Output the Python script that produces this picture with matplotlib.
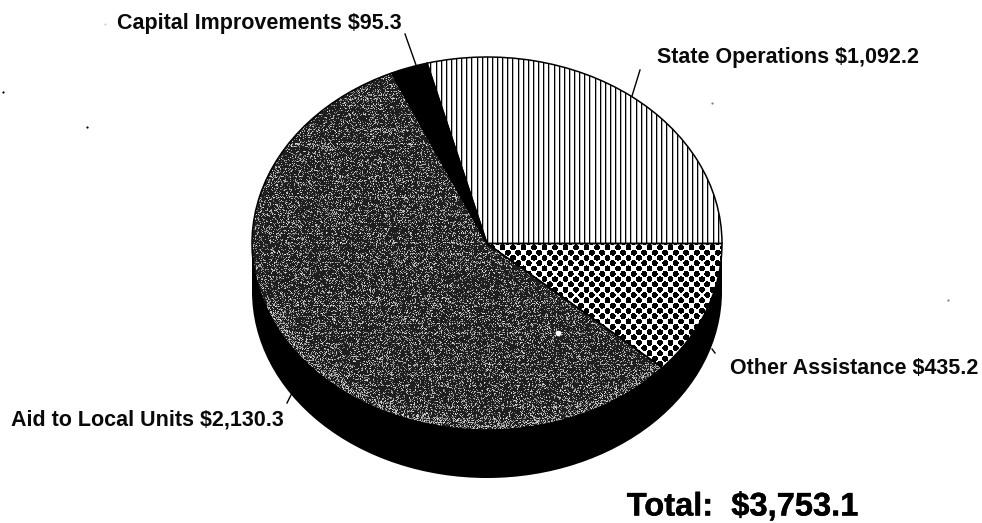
import numpy as np
import matplotlib
matplotlib.use("Agg")
import matplotlib.pyplot as plt
import matplotlib.patheffects as pe
from matplotlib.lines import Line2D
from matplotlib.patches import Ellipse, Rectangle

plt.rcParams['font.family'] = ['Liberation Sans', 'DejaVu Sans']

# Chart data ($ millions)
names = ["State Operations", "Capital Improvements", "Aid to Local Units", "Other Assistance"]
values = [1092.2, 95.3, 2130.3, 435.2]
total_label = "Total:  $3,753.1"

W, H = 982, 523
CX, CY, RX, RY = 487, 243.5, 235, 186.5
DEPTH = 48 / RY


def px(x, y):
    # reference pixel -> figure fraction
    return x / W, 1 - y / H


fig = plt.figure(figsize=(W / 100, H / 100), dpi=100, facecolor='white')
ax = fig.add_axes([0, 0, 1, 1])

xlim = (-CX / RX, (W - CX) / RX)
ylim = (-(H - CY) / RY, CY / RY)

# pie from the data; axes limits squash the circle into the tilted ellipse
wedges, _ = ax.pie(values, startangle=0, counterclock=True, radius=1,
                   colors=['none', 'black', 'none', 'none'],
                   wedgeprops=dict(edgecolor='black', linewidth=1.1))
for w in wedges:
    w.set_zorder(5)

# side of the disc
ax.add_patch(Ellipse((0, -DEPTH), 2, 2, color='black', lw=0, zorder=1))
ax.add_patch(Rectangle((-1, -DEPTH), 2, DEPTH, color='black', lw=0, zorder=1))

yy, xx = np.indices((H, W), dtype=float)
extent = [xlim[0], xlim[1], ylim[0], ylim[1]]


def texture(arr, wedge):
    im = ax.imshow(arr, cmap='gray', vmin=0, vmax=1, extent=extent, aspect='auto',
                   interpolation='nearest', origin='upper', zorder=3)
    im.set_clip_path(wedge)


# vertical rules for State Operations, one pixel wide with a soft shoulder
line_px = np.floor((xx + 1) / 5.13) != np.floor(xx / 5.13)
shoulder = np.roll(line_px, 1, axis=1)
stripes = np.where(line_px, 0.0, np.where(shoulder, 0.72, 1.0))
texture(stripes, wedges[0])

# staggered dots for Other Assistance
sx, sy = 10.5, 5.3
u = (xx + 2) % sx
v = (yy - 3) % (2 * sy)
d1 = np.hypot(np.minimum(u, sx - u), np.minimum(v, 2 * sy - v))
u2 = (xx + 2 + sx / 2) % sx
v2 = (yy - 3 + sy) % (2 * sy)
d2 = np.hypot(np.minimum(u2, sx - u2), np.minimum(v2, 2 * sy - v2))
dots = np.where(np.minimum(d1, d2) < 3.0, 0.0, 1.0)
texture(dots, wedges[3])

# scanner grain for Aid to Local Units (fixed hash, only a fill texture)
grain = (np.sin(xx * 12.9898 + yy * 78.233) * 43758.5453) % 1
streak = (np.sin(yy * 91.17) * 4375.85) % 1
rr = np.hypot((xx - CX) / RX, (yy - CY) / RY)
level = 0.24 + 0.18 * (streak > 0.85) + 0.25 * np.clip((rr - 0.92) / 0.08, 0, 1) * (yy > CY + 60)
dark = np.where(grain < level, 0.4 + 0.5 * ((grain * 7) % 1), 0.12)
texture(dark, wedges[2])

ax.set_xlim(xlim)
ax.set_ylim(ylim)
ax.set_aspect('auto')
ax.axis('off')

# labels
label_pos = [(657, 57, 'left'), (402, 23, 'right'), (284, 420, 'right'), (978, 368, 'right')]
for name, val, (x, y, ha) in zip(names, values, label_pos):
    fx, fy = px(x, y)
    fig.text(fx, fy, f"{name} ${val:,.1f}", fontsize=15.5, fontweight='bold',
             ha=ha, va='center', color='#0a0a0a')
fx, fy = px(858, 507)
fig.text(fx, fy, total_label, fontsize=23.5, fontweight='bold', ha='right', va='center', color='black',
         path_effects=[pe.withStroke(linewidth=0.3, foreground='black')])

# leader lines
leaders = [((640, 70), (632, 96)), ((405, 34), (416, 65)), ((292, 393), (287, 403)), ((712, 349), (715, 353))]
for a, b in leaders:
    fig.add_artist(Line2D(*zip(px(*a), px(*b)), color='black', lw=1.0, zorder=6))

# scan specks
specks = [(3, 92, 'black'), (87, 127, 'black'), (712, 103, 'gray'), (105, 24, 'lightgray'), (948, 300, 'gray')]
for x, y, c in specks:
    fig.add_artist(Line2D([px(x, y)[0]], [px(x, y)[1]], marker='o', ms=1.6, color=c, mew=0))
fig.add_artist(Line2D([px(558, 333)[0]], [px(558, 333)[1]], marker='o', ms=4, color='white', mew=0, zorder=7))

fig.savefig("out.png", dpi=100, facecolor='white')
